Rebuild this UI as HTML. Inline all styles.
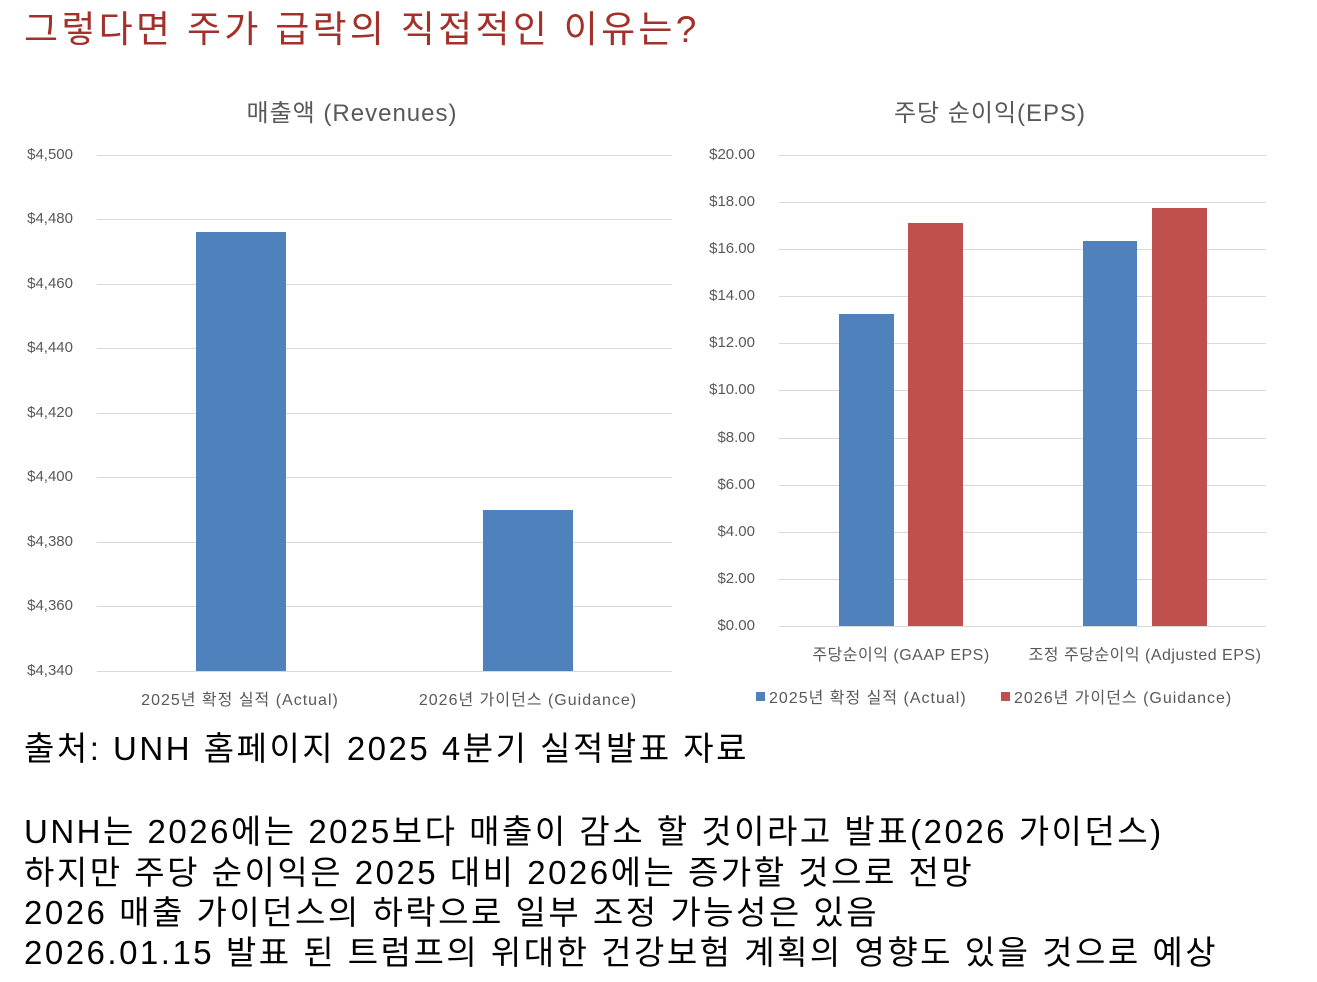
<!DOCTYPE html>
<html><head><meta charset="utf-8">
<style>
body{margin:0;width:1317px;height:982px;background:#fff;position:relative;overflow:hidden;font-family:"Liberation Sans","Noto Sans CJK KR",sans-serif}
.a{position:absolute;white-space:nowrap}
.t{color:#a3302a;font-size:37px;left:24px;top:-1px;letter-spacing:3.3px}
.ct{color:#595959;font-size:24px;top:93px;transform:translateX(-50%);letter-spacing:1px}
.yl{color:#595959;font-size:15px;text-align:right;width:60px}
.xl{color:#595959;font-size:16px;transform:translateX(-50%)}
.g{position:absolute;height:1px;background:#d9d9d9}
.b{position:absolute}
.body{color:#000;font-size:33px;left:24px;letter-spacing:2.5px}
</style></head><body>
<div class="a t">그렇다면 주가 급락의 직접적인 이유는?</div>

<div class="a ct" style="left:352px">매출액 (Revenues)</div>
<div class="a ct" style="left:990px">주당 순이익(EPS)</div>

<div class="g" style="left:97px;width:575px;top:155px"></div>
<div class="g" style="left:97px;width:575px;top:219px"></div>
<div class="g" style="left:97px;width:575px;top:284px"></div>
<div class="g" style="left:97px;width:575px;top:348px"></div>
<div class="g" style="left:97px;width:575px;top:413px"></div>
<div class="g" style="left:97px;width:575px;top:477px"></div>
<div class="g" style="left:97px;width:575px;top:542px"></div>
<div class="g" style="left:97px;width:575px;top:606px"></div>
<div class="g" style="left:97px;width:575px;top:671px"></div>
<div class="a yl" style="left:13px;top:146px">$4,500</div>
<div class="a yl" style="left:13px;top:210px">$4,480</div>
<div class="a yl" style="left:13px;top:275px">$4,460</div>
<div class="a yl" style="left:13px;top:339px">$4,440</div>
<div class="a yl" style="left:13px;top:404px">$4,420</div>
<div class="a yl" style="left:13px;top:468px">$4,400</div>
<div class="a yl" style="left:13px;top:533px">$4,380</div>
<div class="a yl" style="left:13px;top:597px">$4,360</div>
<div class="a yl" style="left:13px;top:662px">$4,340</div>
<div class="b" style="left:196px;width:90px;top:232px;height:439px;background:#4f81bd"></div>
<div class="b" style="left:483px;width:90px;top:510px;height:161px;background:#4f81bd"></div>
<div class="a xl" style="left:240px;top:686px;letter-spacing:1px">2025년 확정 실적 (Actual)</div>
<div class="a xl" style="left:528px;top:686px;letter-spacing:1px">2026년 가이던스 (Guidance)</div>

<div class="g" style="left:779px;width:487px;top:155px"></div>
<div class="g" style="left:779px;width:487px;top:202px"></div>
<div class="g" style="left:779px;width:487px;top:249px"></div>
<div class="g" style="left:779px;width:487px;top:296px"></div>
<div class="g" style="left:779px;width:487px;top:343px"></div>
<div class="g" style="left:779px;width:487px;top:390px"></div>
<div class="g" style="left:779px;width:487px;top:438px"></div>
<div class="g" style="left:779px;width:487px;top:485px"></div>
<div class="g" style="left:779px;width:487px;top:532px"></div>
<div class="g" style="left:779px;width:487px;top:579px"></div>
<div class="g" style="left:779px;width:487px;top:626px"></div>
<div class="a yl" style="left:695px;top:146px">$20.00</div>
<div class="a yl" style="left:695px;top:193px">$18.00</div>
<div class="a yl" style="left:695px;top:240px">$16.00</div>
<div class="a yl" style="left:695px;top:287px">$14.00</div>
<div class="a yl" style="left:695px;top:334px">$12.00</div>
<div class="a yl" style="left:695px;top:381px">$10.00</div>
<div class="a yl" style="left:695px;top:429px">$8.00</div>
<div class="a yl" style="left:695px;top:476px">$6.00</div>
<div class="a yl" style="left:695px;top:523px">$4.00</div>
<div class="a yl" style="left:695px;top:570px">$2.00</div>
<div class="a yl" style="left:695px;top:617px">$0.00</div>
<div class="b" style="left:839px;width:55px;top:314px;height:312px;background:#4f81bd"></div>
<div class="b" style="left:908px;width:55px;top:223px;height:403px;background:#c0504d"></div>
<div class="b" style="left:1083px;width:54px;top:241px;height:385px;background:#4f81bd"></div>
<div class="b" style="left:1152px;width:55px;top:208px;height:418px;background:#c0504d"></div>
<div class="a xl" style="left:901px;top:641px;letter-spacing:0.5px">주당순이익 (GAAP EPS)</div>
<div class="a xl" style="left:1145px;top:641px;letter-spacing:0.5px">조정 주당순이익 (Adjusted EPS)</div>
<div class="b" style="left:756px;top:692px;width:9px;height:9px;background:#4f81bd"></div>
<div class="a" style="left:769px;top:684px;color:#595959;font-size:16px;letter-spacing:1px">2025년 확정 실적 (Actual)</div>
<div class="b" style="left:1001px;top:692px;width:9px;height:9px;background:#c0504d"></div>
<div class="a" style="left:1014px;top:684px;color:#595959;font-size:16px;letter-spacing:1px">2026년 가이던스 (Guidance)</div>

<div class="a body" style="top:722px">출처: UNH 홈페이지 2025 4분기 실적발표 자료</div>
<div class="a body" style="top:805px">UNH는 2026에는 2025보다 매출이 감소 할 것이라고 발표(2026 가이던스)</div>
<div class="a body" style="top:846px">하지만 주당 순이익은 2025 대비 2026에는 증가할 것으로 전망</div>
<div class="a body" style="top:886px">2026 매출 가이던스의 하락으로 일부 조정 가능성은 있음</div>
<div class="a body" style="top:926px">2026.01.15 발표 된 트럼프의 위대한 건강보험 계획의 영향도 있을 것으로 예상</div>
</body></html>
